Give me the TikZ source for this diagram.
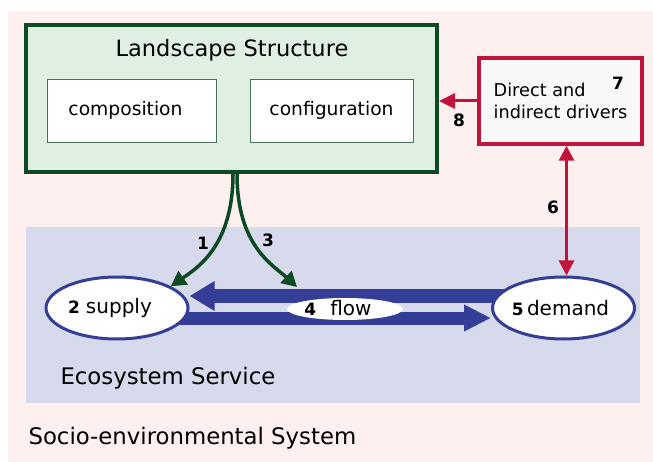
\documentclass[tikz,border=0pt]{standalone}
\usepackage{fontspec}
\setmainfont{DejaVu Sans}
\usetikzlibrary{arrows.meta,shapes.geometric,positioning}

\definecolor{sesbg}{HTML}{FFF0F0}
\definecolor{esarea}{HTML}{D6DAEC}
\definecolor{lsgreen}{HTML}{0B4A22}
\definecolor{lsfill}{HTML}{DFF0E3}
\definecolor{subline}{HTML}{4A6E58}
\definecolor{esblue}{HTML}{343E97}
\definecolor{drvred}{HTML}{C1143C}
\definecolor{drvfill}{HTML}{F8F8F8}

\pgfdeclarelayer{back}
\pgfdeclarelayer{mid}
\pgfsetlayers{back,mid,main}

\tikzset{
  lsbox/.style={rectangle, draw=lsgreen, line width=4pt, fill=lsfill, inner sep=0pt},
  subbox/.style={rectangle, draw=subline, line width=0.8pt, fill=white, inner sep=0pt,
    minimum width=169pt, minimum height=63pt, font=\fontsize{18.7}{22}\selectfont},
  drvbox/.style={rectangle, draw=drvred, line width=3.5pt, fill=drvfill, inner sep=0pt,
    minimum width=163pt, minimum height=86pt, align=left, font=\fontsize{17.7}{22}\selectfont},
  esnode/.style={ellipse, draw=esblue, line width=3pt, fill=white, inner sep=0pt,
    minimum width=142pt, minimum height=62pt, font=\fontsize{20}{24}\selectfont},
  flownode/.style={ellipse, fill=white, inner sep=0pt, text height=13pt, text depth=0pt,
    minimum width=116pt, minimum height=22pt, font=\fontsize{20}{24}\selectfont},
  bigtext/.style={anchor=west, font=\fontsize{22.8}{26}\selectfont},
  num/.style={font=\fontsize{17}{20}\selectfont\bfseries},
  greenarrow/.style={draw=lsgreen, line width=3.5pt, -{Triangle[length=15pt,width=16pt]}},
  redarrow/.style={draw=drvred, line width=3pt},
  fatarrow/.style={draw=esblue, line width=13pt},
}
\newcommand{\numtxt}[1]{{\fontsize{17}{20}\selectfont\bfseries #1}}

\begin{document}
\begin{tikzpicture}[x=1pt,y=-1pt]
\useasboundingbox (0,0) rectangle (653,462);

% backgrounds
\begin{pgfonlayer}{back}
  \fill[white] (0,0) rectangle (653,462);
  \fill[sesbg] (8,11) rectangle (653,462);
  \fill[esarea] (26,227) rectangle (640,403);
\end{pgfonlayer}

% landscape structure
\node[lsbox, minimum width=411pt, minimum height=147pt] (ls) at (231.5,98.5) {};
\node[font=\fontsize{22.5}{26}\selectfont] (lstitle) at (232,50) {Landscape Structure};
\node[subbox] (comp) at (131.5,110.5) {\hspace*{-12pt}composition};
\node[subbox, minimum width=163pt] (conf) at (331.5,110.5) {configuration};

% drivers
\node[drvbox] (drv) at (560.5,101) {Direct and\\indirect drivers};
\node[num] (n7) at (618,83) {7};

% ecosystem service
\node[esnode] (supply) at (117,308) {\hspace*{-14pt}\numtxt{2}\hspace{0.3em}supply};
\node[esnode] (demand) at (563.5,308) {\hspace*{-6pt}\numtxt{5}\,demand};
\node[flownode] (flow) at (345,309) {\hspace*{-14pt}\numtxt{4}\hspace{0.7em}flow};
\coordinate (flowin) at (297,287);

\node[bigtext] (es) at (57,378) {Ecosystem Service};
\node[bigtext] (ses) at (25,438) {Socio-environmental System};

% flows between supply and demand
\begin{pgfonlayer}{mid}
  \draw[fatarrow, -{Triangle[length=25pt,width=28pt]}] ([yshift=12]demand.center) -- ([yshift=12]supply.east);
  \draw[fatarrow, -{Triangle[length=27pt,width=25pt]}] ([yshift=-10]supply.center) -- ([yshift=-10]demand.west);
\end{pgfonlayer}

% structure to service
\draw[greenarrow] ([xshift=1.5]ls.south) .. controls +(0,72) and +(26,-18) .. (supply.22);
\draw[greenarrow] ([xshift=5.5]ls.south) .. controls +(0,72) and +(-24,-22) .. (flowin);
\node[num] (n1) at (203,243) {1};
\node[num] (n3) at (268,240) {3};

% drivers
\draw[redarrow, {Triangle[length=15pt,width=15pt]}-{Triangle[length=15pt,width=15pt]}]
  ([xshift=3]demand.north |- drv.south) -- ([xshift=3]demand.north);
\draw[redarrow, -{Triangle[length=16pt,width=15pt]}] (drv.west) -- (drv.west -| ls.east);
\node[num] (n6) at (553,207) {6};
\node[num] (n8) at (459,120) {8};

\end{tikzpicture}
\end{document}
